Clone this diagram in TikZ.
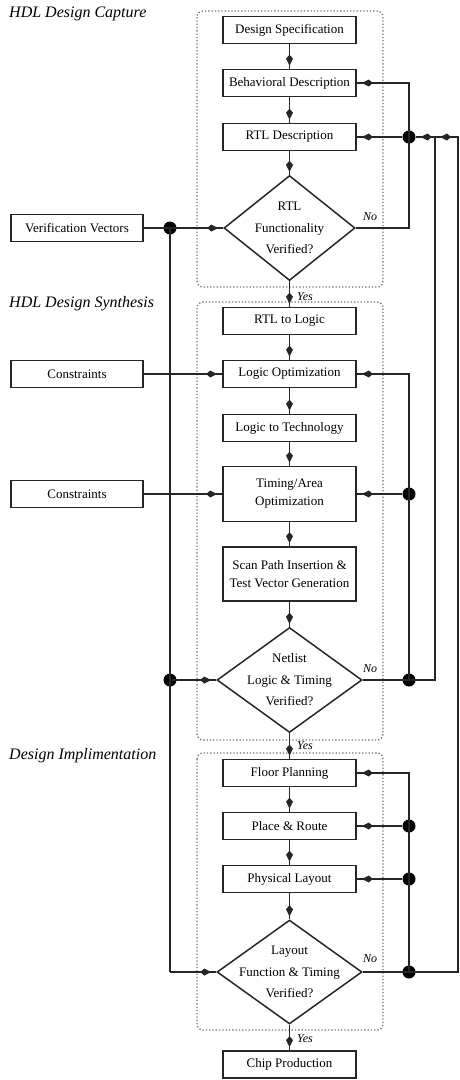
\documentclass[tikz,border=0pt]{standalone}
\usepackage{fontspec}
\setmainfont{Liberation Serif}
\usetikzlibrary{arrows.meta,shapes.geometric,decorations.markings}
\begin{document}
\begin{tikzpicture}[x=1pt,y=-1pt,
  box/.style={draw=black!85,line width=1.6pt,fill=white,minimum width=133pt,minimum height=27pt,inner sep=1pt,align=center,font=\fontsize{13}{18}\selectfont},
  dia/.style={draw=black!85,line width=1.5pt,shape=diamond,inner sep=0pt},
  diatext/.style={align=center,inner sep=0pt,font=\fontsize{13}{21.5}\selectfont},
  junc/.style={circle,fill=black,inner sep=0pt,minimum size=13pt},
  conn/.style={draw=black!85,line width=1.6pt},
  arr/.style={postaction={decorate},decoration={markings,mark=at position -3pt with {\arrow{Kite[length=11pt,width=7pt,inset=4pt]}}}},
  arrb/.style={postaction={decorate},decoration={markings,mark=at position -5pt with {\arrow{Kite[length=11pt,width=7pt,inset=4pt]}}}},
  frame/.style={draw=black!55,line width=1.3pt,dotted,rounded corners=6pt},
  grouptitle/.style={anchor=west,inner sep=0pt,font=\fontsize{16}{16}\selectfont\itshape},
  yn/.style={inner sep=0pt,font=\fontsize{12}{12}\selectfont\itshape}]
\useasboundingbox (0,0) rectangle (460,1080);

% group frames
\draw[frame] (197,11) rectangle (383,287);
\draw[frame] (197,302) rectangle (383,740);
\draw[frame] (197,753) rectangle (383,1030);

% group titles
\node[grouptitle] (t1) at (9,14) {HDL Design Capture};
\node[grouptitle] (t2) at (9,304) {HDL Design Synthesis};
\node[grouptitle] (t3) at (9,756) {Design Implimentation};

% main flow
\node[box] (spec) at (289.5,30) {Design Specification};
\node[box] (behav) at (289.5,83) {Behavioral Description};
\node[box] (rtl) at (289.5,137) {RTL Description};
\node[dia,minimum width=131pt,minimum height=105pt] (rtldia) at (289.5,228) {};
\node[diatext] (rtldiat) at (rtldia.center) {RTL\\Functionality\\Verified?};
\node[box] (r2l) at (289.5,321) {RTL to Logic};
\node[box] (logopt) at (289.5,374) {Logic Optimization};
\node[box] (l2t) at (289.5,428) {Logic to Technology};
\node[box,minimum height=55pt] (timing) at (289.5,494) {Timing/Area\\Optimization};
\node[box,minimum height=54pt] (scan) at (289.5,574) {Scan Path Insertion \&\\Test Vector Generation};
\node[dia,minimum width=145pt,minimum height=105pt] (netdia) at (289.5,680) {};
\node[diatext] (netdiat) at (netdia.center) {Netlist\\Logic \& Timing\\Verified?};
\node[box] (floor) at (289.5,773) {Floor Planning};
\node[box] (place) at (289.5,826) {Place \& Route};
\node[box] (phys) at (289.5,879) {Physical Layout};
\node[dia,minimum width=145pt,minimum height=104pt] (laydia) at (289.5,972) {};
\node[diatext] (laydiat) at (laydia.center) {Layout\\Function \& Timing\\Verified?};
\node[box] (chip) at (289.5,1064.5) {Chip Production};

% inputs
\node[box,minimum width=132pt] (verif) at (77,228) {Verification Vectors};
\node[box,minimum width=132pt] (cons1) at (77,374) {Constraints};
\node[box,minimum width=132pt] (cons2) at (77,494) {Constraints};

% junctions and corners
\node[junc] (dv1) at (170,228) {};
\node[junc] (dv2) at (170,680) {};
\coordinate (cL) at (170,972);
\node[junc] (d1) at (409,137) {};
\node[junc] (d2) at (409,494) {};
\node[junc] (d3) at (409,680) {};
\node[junc] (d4) at (409,826) {};
\node[junc] (d5) at (409,879) {};
\node[junc] (d6) at (409,972) {};
\coordinate (cA1) at (435,680);
\coordinate (cA2) at (435,137);
\coordinate (cB1) at (458,972);
\coordinate (cB2) at (458,137);

% main flow connectors
\draw[conn,arr] (spec) -- (behav);
\draw[conn,arr] (behav) -- (rtl);
\draw[conn,arr] (rtl) -- (rtldia.north);
\draw[conn,arr] (rtldia.south) -- (r2l);
\draw[conn,arr] (r2l) -- (logopt);
\draw[conn,arr] (logopt) -- (l2t);
\draw[conn,arr] (l2t) -- (timing);
\draw[conn,arr] (timing) -- (scan);
\draw[conn,arr] (scan) -- (netdia.north);
\draw[conn,arr] (netdia.south) -- (floor);
\draw[conn,arr] (floor) -- (place);
\draw[conn,arr] (place) -- (phys);
\draw[conn,arr] (phys) -- (laydia.north);
\draw[conn,arr] (laydia.south) -- (chip);

% left side inputs
\draw[conn] (verif) -- (dv1.center);
\draw[conn,arrb] (dv1.center) -- (rtldia.west);
\draw[conn] (dv1.center) -- (cL);
\draw[conn,arrb] (dv2.center) -- (netdia.west);
\draw[conn,arrb] (cL) -- (laydia.west);
\draw[conn,arrb] (cons1) -- (logopt);
\draw[conn,arrb] (cons2) -- (timing);

% capture feedback
\draw[conn,arrb] (rtldia.east) -- (rtldia.east -| d1) -- (d1 |- behav.east) -- (behav.east);
\draw[conn,arrb] (d1) -- (rtl.east);

% synthesis feedback
\draw[conn] (netdia.east) -- (d3.center);
\draw[conn] (d3.center) -- (d2.center);
\draw[conn,arrb] (d2) -- (timing.east);
\draw[conn,arrb] (d2.center) -- (d2 |- logopt.east) -- (logopt.east);
\draw[conn,arrb] (d3.center) -- (cA1) -- (cA2) -- (d1);

% implementation feedback
\draw[conn] (laydia.east) -- (d6.center);
\draw[conn,arrb] (d6.center) -- (d4 |- floor.east) -- (floor.east);
\draw[conn,arrb] (d4) -- (place.east);
\draw[conn,arrb] (d5) -- (phys.east);
\draw[conn,arrb] (d6.center) -- (cB1) -- (cB2) -- (cA2);

% labels
\node[yn,anchor=west] (y1) at (297,297) {Yes};
\node[yn,anchor=west] (y2) at (297,746) {Yes};
\node[yn,anchor=west] (y3) at (297,1039) {Yes};
\node[yn] (n1) at (370,217) {No};
\node[yn] (n2) at (370,669) {No};
\node[yn] (n3) at (370,959) {No};
\end{tikzpicture}
\end{document}
